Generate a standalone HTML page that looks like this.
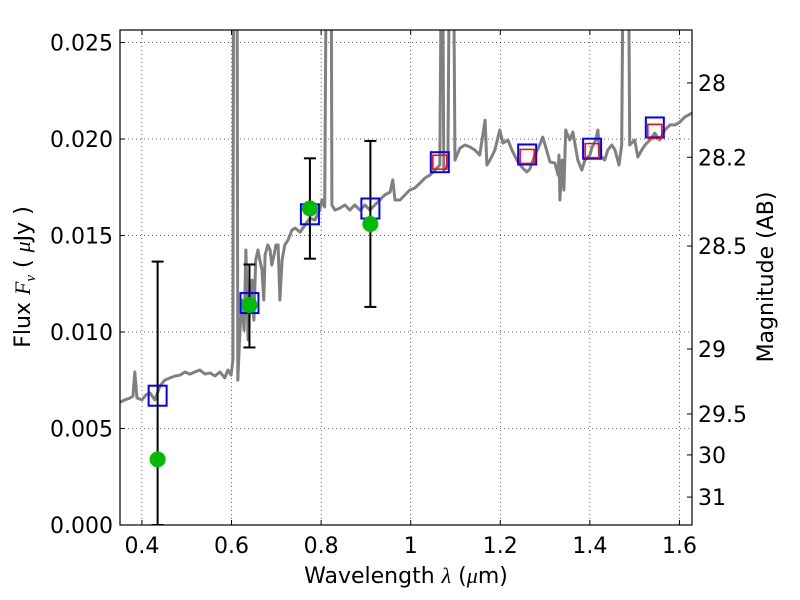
<!DOCTYPE html>
<html><head><meta charset="utf-8"><style>
body{margin:0;background:#fff;}
svg{display:block;font-family:"DejaVu Sans","Liberation Sans",sans-serif;}
</style></head><body>
<svg id="chart" width="800" height="600" viewBox="0 0 800 600" xmlns="http://www.w3.org/2000/svg">
<defs><clipPath id="plotclip"><rect x="120" y="30" width="572" height="495"/></clipPath></defs>
<rect x="0" y="0" width="800" height="600" fill="#fff"/>
<g id="grid"></g>
<g id="spec" clip-path="url(#plotclip)"></g>
<g id="marks" clip-path="url(#plotclip)"></g>
<rect x="120" y="30" width="572" height="495" fill="none" stroke="#000" stroke-width="1.2"/>
<g id="axes"></g>
<text x="406" y="583" font-size="22" text-anchor="middle">Wavelength  <tspan font-style="italic" font-family="Liberation Serif,serif">λ</tspan> (<tspan font-style="italic" font-family="Liberation Serif,serif">μ</tspan>m)</text>
<text transform="translate(30,277) rotate(-90)" font-size="22" text-anchor="middle">Flux  <tspan font-style="italic" font-family="Liberation Serif,serif">F</tspan><tspan font-style="italic" font-family="Liberation Serif,serif" font-size="15" dy="5">ν</tspan><tspan dy="-5">  ( </tspan><tspan font-style="italic" font-family="Liberation Serif,serif">μ</tspan>Jy )</text>
<text transform="translate(773,277) rotate(-90)" font-size="22" text-anchor="middle">Magnitude (AB)</text>
</svg>
<script>
const NS="http://www.w3.org/2000/svg";
const xTicks=[0.4,0.6,0.8,1.0,1.2,1.4,1.6];
const xTickLabels=["0.4","0.6","0.8","1","1.2","1.4","1.6"];
const yTicks=[0,0.005,0.010,0.015,0.020,0.025];
const yTickLabels=["0.000","0.005","0.010","0.015","0.020","0.025"];
const magTicks=[28,28.2,28.5,29,29.5,30,31];
const magTickLabels=["28","28.2","28.5","29","29.5","30","31"];
const specWave=[0.351,0.362,0.373,0.380,0.384,0.389,0.400,0.409,0.418,0.429,0.440,0.451,0.463,0.474,0.485,0.496,0.507,0.518,0.529,0.541,0.552,0.563,0.574,0.585,0.592,0.599,0.603,0.605,0.612,0.614,0.619,0.623,0.628,0.632,0.637,0.641,0.646,0.650,0.654,0.659,0.663,0.668,0.672,0.675,0.681,0.686,0.690,0.695,0.699,0.704,0.708,0.713,0.719,0.726,0.735,0.742,0.753,0.764,0.775,0.786,0.797,0.802,0.808,0.813,0.822,0.824,0.831,0.842,0.853,0.864,0.875,0.887,0.898,0.909,0.920,0.931,0.942,0.954,0.960,0.965,0.976,0.987,0.998,1.009,1.021,1.032,1.043,1.054,1.065,1.070,1.074,1.083,1.088,1.094,1.099,1.110,1.121,1.132,1.143,1.154,1.166,1.170,1.177,1.188,1.199,1.206,1.217,1.226,1.237,1.248,1.259,1.266,1.277,1.288,1.295,1.302,1.311,1.322,1.329,1.331,1.333,1.338,1.342,1.346,1.355,1.362,1.373,1.382,1.389,1.400,1.404,1.413,1.418,1.422,1.433,1.440,1.449,1.456,1.465,1.471,1.476,1.485,1.489,1.500,1.507,1.516,1.523,1.534,1.545,1.556,1.567,1.579,1.590,1.601,1.612,1.628];
const specFlux=[0.00637,0.00648,0.00658,0.00668,0.00793,0.00658,0.00648,0.00674,0.00684,0.00648,0.00720,0.00751,0.00762,0.00772,0.00777,0.00793,0.00782,0.00793,0.00803,0.00782,0.00788,0.00772,0.00793,0.00762,0.00803,0.00777,0.00855,0.035,0.035,0.00751,0.0101,0.01166,0.0101,0.01425,0.00959,0.01166,0.01269,0.01062,0.01373,0.01425,0.01373,0.01321,0.01166,0.01399,0.01451,0.01425,0.01347,0.01399,0.01451,0.01451,0.01166,0.01373,0.01451,0.01477,0.01528,0.01539,0.01518,0.01554,0.01591,0.01580,0.01632,0.01684,0.01648,0.035,0.035,0.01658,0.01632,0.01642,0.01658,0.01632,0.01658,0.01632,0.01658,0.01632,0.01658,0.01684,0.01710,0.01725,0.01788,0.01684,0.01684,0.01710,0.01736,0.01746,0.01772,0.01798,0.01813,0.01839,0.01865,0.035,0.01839,0.01865,0.035,0.035,0.01891,0.01953,0.01969,0.01959,0.01943,0.01917,0.02098,0.01865,0.01891,0.01943,0.02047,0.01979,0.01995,0.01943,0.01891,0.01855,0.01829,0.01845,0.01917,0.01969,0.02010,0.01953,0.01881,0.01876,0.01813,0.01917,0.01684,0.01891,0.01736,0.02047,0.01995,0.02036,0.01891,0.01839,0.01891,0.01917,0.01953,0.01995,0.02047,0.01917,0.01891,0.01943,0.01969,0.01943,0.01865,0.01969,0.035,0.035,0.01969,0.01995,0.01907,0.01943,0.01969,0.01995,0.02031,0.01995,0.02047,0.02073,0.02073,0.02088,0.02114,0.02135];
const modelWave=[0.435,0.640,0.775,0.910,1.065,1.260,1.405,1.545];
const modelFlux=[0.0067,0.0115,0.0161,0.0164,0.0188,0.0192,0.0195,0.0206];
const redWave=[1.065,1.260,1.405,1.545];
const redFlux=[0.0188,0.0191,0.0194,0.0204];
const obsWave=[0.435,0.640,0.775,0.910];
const obsFlux=[0.0034,0.0114,0.0164,0.0156];
const obsErrLo=[0.0,0.0092,0.0138,0.0113];
const obsErrHi=[0.01365,0.0135,0.0190,0.0199];

const X0=120,X1=692,Y0=525,Y1=30;
const xMin=0.351,xMax=1.628,yMin=0,yMax=0.02565;
const sx=v=>X0+(v-xMin)/(xMax-xMin)*(X1-X0);
const sy=v=>Y0-(v-yMin)/(yMax-yMin)*(Y0-Y1);
const magToFlux=m=>Math.pow(10,(23.9-m)/2.5);
function mk(tag,attrs,parent){const e=document.createElementNS(NS,tag);for(const k in attrs)e.setAttribute(k,attrs[k]);parent.appendChild(e);return e;}
const grid=document.getElementById('grid'),axes=document.getElementById('axes'),spec=document.getElementById('spec'),marks=document.getElementById('marks');

xTicks.forEach((t,i)=>{const x=sx(t);
 const g=mk('line',{x1:x,x2:x,y1:Y1,y2:Y0,stroke:'#000','stroke-width':0.6,'stroke-dasharray':'1,3'},grid);
 
 
 mk('line',{x1:x,x2:x,y1:Y0,y2:Y0-5,stroke:'#000'},axes);
 mk('line',{x1:x,x2:x,y1:Y1,y2:Y1+5,stroke:'#000'},axes);
 const tx=mk('text',{x:x,y:Y0+28,'font-size':22,'text-anchor':'middle'},axes);tx.textContent=xTickLabels[i];
 
 
});
yTicks.forEach((t,i)=>{const y=sy(t);
 const g=mk('line',{x1:X0,x2:X1,y1:y,y2:y,stroke:'#000','stroke-width':0.6,'stroke-dasharray':'1,3'},grid);
 
 
 mk('line',{x1:X0,x2:X0+5,y1:y,y2:y,stroke:'#000'},axes);
 const tx=mk('text',{x:X0-7,y:y+8,'font-size':22,'text-anchor':'end'},axes);tx.textContent=yTickLabels[i];
 
 
});
magTicks.forEach((m,i)=>{const y=sy(magToFlux(m));
 mk('line',{x1:X1-5,x2:X1,y1:y,y2:y,stroke:'#000'},axes);
 const tx=mk('text',{x:X1+6,y:y+8,'font-size':22,'text-anchor':'start'},axes);tx.textContent=magTickLabels[i];
 
 
});
const pts=specWave.map((w,i)=>sx(w).toFixed(1)+','+sy(specFlux[i]).toFixed(1)).join(' ');
const pl=mk('polyline',{points:pts,fill:'none',stroke:'#808080','stroke-width':3,'stroke-linejoin':'round'},spec);



obsWave.forEach((w,i)=>{const x=sx(w),ylo=sy(obsErrLo[i]),yhi=sy(obsErrHi[i]);
 const e=mk('line',{x1:x,x2:x,y1:ylo,y2:yhi,stroke:'#000','stroke-width':2},marks);
 
 
 mk('line',{x1:x-6,x2:x+6,y1:yhi,y2:yhi,stroke:'#000','stroke-width':2},marks);
 mk('line',{x1:x-6,x2:x+6,y1:ylo,y2:ylo,stroke:'#000','stroke-width':2},marks);
});
modelWave.forEach((w,i)=>{const x=sx(w),y=sy(modelFlux[i]);
 const r=mk('rect',{x:x-9,y:y-10,width:18,height:20,fill:'none',stroke:'#0000ff','stroke-width':2},marks);
 
 
});
redWave.forEach((w,i)=>{const x=sx(w),y=sy(redFlux[i]);
 const r=mk('rect',{x:x-7,y:y-7,width:14,height:14,fill:'none',stroke:'#ff0000','stroke-width':1.5},marks);
 
 
});
obsWave.forEach((w,i)=>{
 const c=mk('circle',{cx:sx(w),cy:sy(obsFlux[i]),r:8,fill:'#00bb00'},marks);
 
 
});
</script>
</body></html>
